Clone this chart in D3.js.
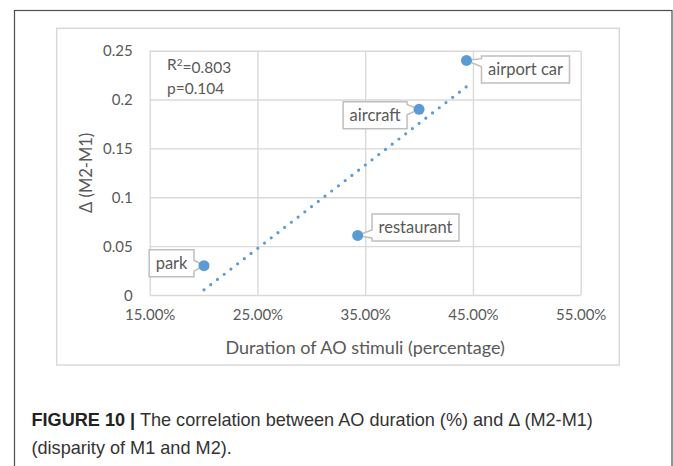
<!DOCTYPE html>
<html>
<head>
<meta charset="utf-8">
<script src="https://cdn.jsdelivr.net/npm/d3@7"></script>
<style>
  html, body { margin: 0; padding: 0; background: #ffffff; }
  svg { display: block; }
</style>
</head>
<body>
<svg id="chart" width="673" height="466"></svg>
<script>
// ---------------- data ----------------
const categories = ["park", "restaurant", "aircraft", "airport car"];
const duration   = [0.2004, 0.343, 0.400, 0.444];   // Duration of AO stimuli (fraction)
const delta      = [0.030, 0.061, 0.190, 0.240];    // Δ (M2-M1)
const xTicks = [0.15, 0.25, 0.35, 0.45, 0.55];
const yTicks = [0, 0.05, 0.1, 0.15, 0.2, 0.25];
const statsLines = ["R²=0.803", "p=0.104"];
const xTitle = "Duration of AO stimuli (percentage)";
const yTitle = "Δ (M2-M1)";
const captionBold = "FIGURE 10 |";
const captionLine1 = " The correlation between AO duration (%) and Δ (M2-M1)";
const captionLine2 = "(disparity of M1 and M2).";

// ---------------- layout ----------------
const svg = d3.select("#chart");
const plot = { left: 149.7, right: 580.7, top: 50.7, bottom: 295 };
const blue = "#5b9bd5", grid = "#d9d9d9", txt = "#595959";
const chartFont = "Lato, 'Open Sans', sans-serif";

// outer figure frame
svg.append("rect").attr("x", 14.5).attr("y", 10.5).attr("width", 657.5).attr("height", 470)
  .attr("fill", "none").attr("stroke", "#4d4d4d").attr("stroke-width", 1.2);
// chart area border
svg.append("rect").attr("x", 56.7).attr("y", 28.3).attr("width", 562.6).attr("height", 336.7)
  .attr("fill", "#fff").attr("stroke", "#d9d9d9").attr("stroke-width", 1.5);

const x = d3.scaleLinear().domain([0.15, 0.55]).range([plot.left, plot.right]);
const y = d3.scaleLinear().domain([0, 0.25]).range([plot.bottom, plot.top]);

// gridlines via axes
const gx = svg.append("g").attr("transform", `translate(0,${plot.bottom})`)
  .call(d3.axisBottom(x).tickValues(xTicks).tickSize(-(plot.bottom - plot.top))
    .tickFormat(d => (d * 100).toFixed(2) + "%").tickPadding(14));
const gy = svg.append("g").attr("transform", `translate(${plot.left},0)`)
  .call(d3.axisLeft(y).tickValues(yTicks).tickSize(-(plot.right - plot.left))
    .tickFormat(d => d3.format("")(+d.toFixed(2))).tickPadding(17));
[gx, gy].forEach(g => {
  g.select(".domain").remove();
  g.selectAll(".tick line").attr("stroke", grid).attr("stroke-width", 1.4);
  g.selectAll(".tick text").attr("fill", txt).style("font-family", chartFont).style("font-size", "15px");
});
gx.selectAll(".tick text").attr("dy", "0.71em");
gy.selectAll(".tick text").attr("dy", "0.35em");

// axis titles
svg.append("text").attr("x", (plot.left + plot.right) / 2).attr("y", 348).attr("dy", "0.35em")
  .attr("text-anchor", "middle").attr("fill", txt).style("font-family", chartFont).style("font-size", "18px")
  .text(xTitle);
svg.append("text").attr("transform", `translate(86,${(plot.top + plot.bottom) / 2}) rotate(-90)`)
  .attr("dy", "0.35em").attr("text-anchor", "middle").attr("fill", txt)
  .style("font-family", chartFont).style("font-size", "16.5px").text(yTitle);

// trendline (least squares fit of the data)
const mx = d3.mean(duration), my = d3.mean(delta);
const sxy = d3.sum(duration.map((v, i) => (v - mx) * (delta[i] - my)));
const sxx = d3.sum(duration.map(v => (v - mx) ** 2));
const slope = sxy / sxx, intercept = my - slope * mx;
const xr = d3.extent(duration);
svg.append("path")
  .attr("d", d3.line().x(d => x(d)).y(d => y(intercept + slope * d))(xr))
  .attr("fill", "none").attr("stroke", blue).attr("stroke-width", 3.2)
  .attr("stroke-linecap", "round").attr("stroke-dasharray", "0,8.5");

// stats text
const st = svg.append("text").attr("fill", txt).style("font-family", chartFont).style("font-size", "15.5px");
st.append("tspan").attr("x", 167).attr("y", 65).attr("dy", "0.35em").text("R");
st.append("tspan").attr("dy", "-0.4em").style("font-size", "10px").text("2");
st.append("tspan").attr("dy", "0.4em").text(statsLines[0].slice(2));
svg.append("text").attr("x", 167).attr("y", 89).attr("dy", "0.35em").attr("fill", txt)
  .style("font-family", chartFont).style("font-size", "15.5px").text(statsLines[1]);

// data label callouts (placement relative to each point)
const labelPlace = {
  "park":        { side: "right", gap: 10,   cy: -2.5 },
  "restaurant":  { side: "left",  gap: 14.4, cy: -8 },
  "aircraft":    { side: "right", gap: 12,   cy: 6 },
  "airport car": { side: "left",  gap: 15,   cy: 9 }
};
const pts = categories.map((c, i) => ({ name: c, px: x(duration[i]), py: y(delta[i]) }));
const labG = svg.append("g");
pts.forEach(p => {
  const lp = labelPlace[p.name];
  const g = labG.append("g");
  const t = g.append("text").attr("fill", txt).style("font-family", chartFont).style("font-size", "16.5px")
    .attr("text-anchor", "middle").attr("dy", "0.35em").text(p.name);
  const tw = t.node().getComputedTextLength();
  const bw = tw + 13, bh = 27;
  const bx = lp.side === "left" ? p.px + lp.gap : p.px - lp.gap - bw;
  const by = p.py + lp.cy - bh / 2;
  t.attr("x", bx + bw / 2).attr("y", by + bh / 2);
  const rel = Math.max(0.2, Math.min(0.8, (p.py - by) / bh));
  const b1 = by + bh * Math.max(0.1, rel - 0.2), b2 = by + bh * Math.min(0.9, rel + 0.2);
  let d;
  if (lp.side === "left") {
    d = `M${bx},${by}H${bx + bw}V${by + bh}H${bx}V${b2}L${p.px},${p.py}L${bx},${b1}Z`;
  } else {
    d = `M${bx},${by}H${bx + bw}V${b1}L${p.px},${p.py}L${bx + bw},${b2}V${by + bh}H${bx}Z`;
  }
  g.insert("path", "text").attr("d", d).attr("fill", "#fff").attr("stroke", "#bfbfbf").attr("stroke-width", 1.5);
});

// markers
svg.append("g").selectAll("circle").data(pts).join("circle")
  .attr("cx", d => d.px).attr("cy", d => d.py).attr("r", 5.5).attr("fill", blue);

// caption
const capFont = "'Liberation Sans', Arial, sans-serif";
const cap1 = svg.append("text").attr("x", 31.5).attr("y", 426).attr("fill", "#333")
  .style("font-family", capFont).style("font-size", "17.5px");
cap1.append("tspan").style("font-weight", "bold").attr("fill", "#222").text(captionBold);
cap1.append("tspan").text(captionLine1);
const cap2 = svg.append("text").attr("x", 31.5).attr("y", 454).attr("fill", "#333")
  .style("font-family", capFont).style("font-size", "17.5px").text(captionLine2);
const w1 = cap1.node().getComputedTextLength();
const sx = 562 / w1;
cap1.attr("transform", `translate(${31.5 * (1 - sx)},0) scale(${sx},1)`);
cap2.attr("transform", `translate(${31.5 * (1 - sx)},0) scale(${sx},1)`);
</script>
</body>
</html>
